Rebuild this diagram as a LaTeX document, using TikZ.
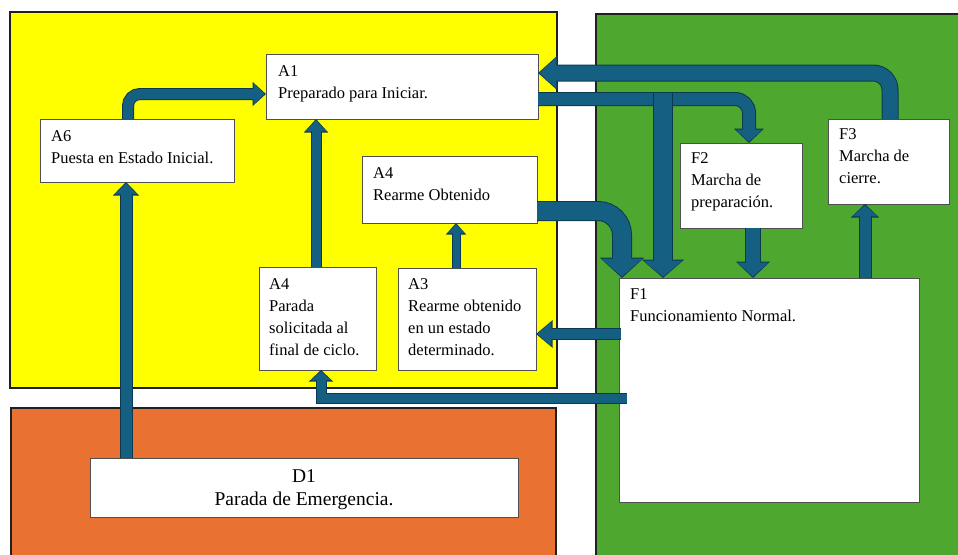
\documentclass[tikz,border=0pt]{standalone}
\usepackage{fontspec}
\setmainfont{Liberation Serif}
\usetikzlibrary{arrows.meta,calc}
\definecolor{ylw}{HTML}{FFFF00}
\definecolor{org}{HTML}{E97132}
\definecolor{grn}{HTML}{4EA72E}
\definecolor{arrfill}{HTML}{156082}
\definecolor{arrline}{HTML}{0B3A50}
\definecolor{boxc}{HTML}{505050}
\definecolor{regc}{HTML}{202020}
\tikzset{
  region/.style={draw=regc, line width=1.1pt, inner sep=0, outer sep=0, anchor=north west},
  box/.style={draw=boxc, fill=white, line width=0.8pt, inner sep=0, outer sep=0, anchor=north west},
  txt/.style={inner sep=0, anchor=north west, align=left, font=\fontsize{16.5}{22}\selectfont},
  blkout/.style={draw=arrline},
  blkin/.style={draw=arrfill},
}
\newcommand\blockarrow[5]{%
  \pgfmathsetmacro\bwA{#1+2}\pgfmathsetmacro\bwB{#2+3.5}\pgfmathsetmacro\bwC{#3+2.5}%
  \draw[blkout, line width=\bwA pt, rounded corners=#4pt, -{Triangle[length=\bwC pt, width=\bwB pt]}] #5;
  \draw[blkin, line width=#1pt, rounded corners=#4pt, shorten >=1.3pt, -{Triangle[length=#3pt, width=#2pt]}] #5;
}
\begin{document}
\begin{tikzpicture}[x=1pt,y=-1pt]
\clip (0,0) rectangle (958,554);
\fill[white] (0,0) rectangle (958,554);
% regions
\node[region, fill=ylw, minimum width=547, minimum height=376] (Y) at (10,12) {};
\node[region, fill=org, minimum width=545, minimum height=160] (O) at (11,408) {};
\node[region, fill=grn, minimum width=380, minimum height=560] (G) at (596,14) {};
% boxes
\node[box, minimum width=272, minimum height=65] (A1) at (266,54) {};
\node[box, minimum width=194, minimum height=63] (A6) at (40,119) {};
\node[box, minimum width=175, minimum height=67] (A4R) at (362,156) {};
\node[box, minimum width=117, minimum height=103] (A4P) at (259,267) {};
\node[box, minimum width=138, minimum height=102] (A3) at (398,268) {};
\node[box, minimum width=122, minimum height=85] (F2) at (680,143) {};
\node[box, minimum width=121, minimum height=85] (F3) at (828,119) {};
\node[box, minimum width=300, minimum height=224] (F1) at (619,278) {};
\node[box, minimum width=428, minimum height=59] (D1) at (90,458) {};
% texts
\node[txt] (tA1) at (278,65) {A1\\Preparado para Iniciar.};
\node[txt] (tA6) at (51,130) {A6\\Puesta en Estado Inicial.};
\node[txt] (tA4R) at (373,167) {A4\\Rearme Obtenido};
\node[txt] (tA4P) at (269,278) {A4\\Parada\\solicitada al\\final de ciclo.};
\node[txt] (tA3) at (408,278) {A3\\Rearme obtenido\\en un estado\\determinado.};
\node[txt] (tF2) at (691,152) {F2\\Marcha de\\preparación.};
\node[txt] (tF3) at (839,128) {F3\\Marcha de\\cierre.};
\node[txt] (tF1) at (630,288) {F1\\Funcionamiento Normal.};
\node[inner sep=0, anchor=north, align=center, font=\fontsize{19.5}{23}\selectfont] (tD1) at (304,469) {D1\\Parada de Emergencia.};
% connector coordinates
\coordinate (s1) at ($(A6.north west)+(88,0)$);
\coordinate (e1) at ($(A1.north west)+(0,40)$);
\coordinate (s2) at ($(D1.north west)+(36,0)$);
\coordinate (s3) at ($(A4P.north west)+(57,0)$);
\coordinate (s4) at ($(A3.north west)+(58,0)$);
\coordinate (s5) at ($(F1.north west)+(2,56)$);
\coordinate (s6) at ($(F1.north west)+(8,120.5)$);
\coordinate (e6) at ($(A4P.south west)+(62,0)$);
\coordinate (s7) at ($(A1.north east)+(0,45)$);
\coordinate (e7) at ($(F2.north west)+(69,0)$);
\coordinate (s8) at ($(A1.north east)+(125,39)$);
\coordinate (s9) at ($(A4R.north east)+(0,55)$);
\coordinate (e9) at ($(F1.north west)+(3,0)$);
\coordinate (s10) at ($(F2.south west)+(73,0)$);
\coordinate (s11) at ($(F1.north west)+(246,0)$);
\coordinate (s12) at ($(F3.north west)+(62,0)$);
\coordinate (e12) at ($(A1.north east)+(0,19)$);
% arrows
\blockarrow{10}{20}{11}{12}{(s1) |- (e1)}
\blockarrow{11}{22}{11}{0}{(s2) -- (s2 |- A6.south)}
\blockarrow{9}{20}{11}{0}{(s3) -- (s3 |- A1.south)}
\blockarrow{7}{16}{9}{0}{(s4) -- (s4 |- A4R.south)}
\blockarrow{10}{23}{14}{0}{(s5) -- (A3.east |- s5)}
\blockarrow{9}{20}{9}{0}{(s6) -| (e6)}
\blockarrow{12}{26}{12}{14}{(s7) -| (e7)}
\blockarrow{18}{38}{16}{0}{(s8) -- (s8 |- F1.north)}
\blockarrow{18}{40}{18}{24}{(s9) -| (e9)}
\blockarrow{14}{30}{14}{0}{(s10) -- (s10 |- F1.north)}
\blockarrow{11}{24}{11}{0}{(s11) -- (s11 |- F3.south)}
\blockarrow{15}{30}{17}{17}{(s12) |- (e12)}
\end{tikzpicture}
\end{document}
